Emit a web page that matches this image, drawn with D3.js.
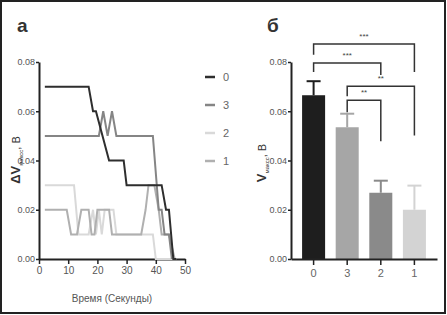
<!DOCTYPE html>
<html>
<head>
<meta charset="utf-8">
<script src="https://cdn.jsdelivr.net/npm/d3@7"></script>
<style>
  body { margin: 0; background: #fff; }
  svg { display: block; font-family: "Liberation Sans Narrow", "Liberation Sans", Arial, sans-serif; }
</style>
</head>
<body>
<div class="chart"></div>
<script>
// ---- data ----
const seriesNames = ['0', '3', '2', '1'];
const seriesColors = ['#2e2e2e', '#858585', '#d9d9d9', '#b0b0b0'];

// time (s), ΔV (B)
const s0 = [[2,.07],[17,.07],[18.5,.06],[19.5,.06],[24,.04],[29,.04],[30,.03],[42,.03],[43.5,.02],[44.5,.02],[46,0],[47,0]];
const s3 = [[2,.05],[20.5,.05],[22,.06],[23.5,.05],[25,.06],[26.5,.05],[39,.05],[41,.02],[42,.02],[43,.01],[44.5,.01],[45.5,0]];
const s2 = [[2,.03],[12,.03],[13.5,.01],[17,.01],[18.5,.02],[19.5,.01],[20.5,.02],[21.5,.01],[22.5,.02],[25.5,.02],[26.5,.01],[39,.01],[40,0],[47,0]];
const s1 = [[2,.02],[9.5,.02],[11,.01],[13,.01],[14.5,.02],[17,.02],[18,.01],[19,.01],[20,.02],[24,.02],[25,.01],[27,.01],[35,.01],[36.5,.02],[37.5,.03],[39.5,.03],[41,.02],[42,.01],[44.5,.01],[46.5,0]];
const lineSeries = [s0, s3, s2, s1];

const barCats = ['0', '3', '2', '1'];
const barMeans = [0.0665, 0.0535, 0.0269, 0.0200];
const barErrs = [0.0057, 0.0055, 0.0049, 0.0098];
const barColors = ['#1e1e1e', '#a6a6a6', '#8a8a8a', '#d3d3d3'];

// significance brackets: from, to, level, left leg end, right leg end, label
const sigFrom = ['0', '0', '3', '3'];
const sigTo = ['1', '2', '1', '2'];
const sigLevel = [0.0873, 0.0796, 0.0702, 0.0645];
const sigLeftEnd = [0.0829, 0.0759, 0.0661, 0.0596];
const sigRightEnd = [0.0759, 0.0747, 0.0502, 0.0478];
const sigLabels = ['***', '***', '**', '**'];

const yTicks = [0, 0.02, 0.04, 0.06, 0.08];
const xTicks = [0, 10, 20, 30, 40, 50];

const outerW = 447, outerH = 315;

const svg = d3.select('.chart').append('svg')
  .attr('width', outerW)
  .attr('height', outerH);

// frame
svg.append('rect')
  .attr('x', 1).attr('y', 1)
  .attr('width', 444).attr('height', 312)
  .attr('fill', 'none')
  .attr('stroke', '#222')
  .attr('stroke-width', 2);

function styleAxis(g) {
  g.select('.domain').attr('stroke', '#222').attr('stroke-width', 2);
  g.selectAll('.tick line').attr('stroke', '#222').attr('stroke-width', 1.5);
  g.selectAll('.tick text').attr('fill', '#555').style('font-size', '9px');
}

// ---------- panel a : lines ----------
const x = d3.scaleLinear().domain([0, 50]).range([39, 185]);
const y = d3.scaleLinear().domain([0, 0.08]).range([259, 62]);

svg.append('g')
  .attr('transform', 'translate(39,0)')
  .call(d3.axisLeft(y).tickValues(yTicks).tickFormat(d3.format('.2f')).tickSize(3).tickSizeOuter(0).tickPadding(1))
  .call(styleAxis);

svg.append('g')
  .attr('transform', 'translate(0,259)')
  .call(d3.axisBottom(x).tickValues(xTicks).tickSize(5).tickSizeOuter(0).tickPadding(3))
  .call(styleAxis)
  .selectAll('.tick text').style('font-size', '10px');

const line = d3.line().x(d => x(d[0])).y(d => y(d[1]));

// draw lightest first so dark ones sit on top
[2, 3, 1, 0].forEach(i => {
  svg.append('path')
    .datum(lineSeries[i])
    .attr('fill', 'none')
    .attr('stroke', seriesColors[i])
    .attr('stroke-width', 2)
    .attr('stroke-linejoin', 'miter')
    .attr('d', line);
});

// legend
const legend = svg.append('g')
  .selectAll('g')
  .data(seriesNames)
  .join('g')
  .attr('transform', (d, i) => `translate(205,${77 + i * 28})`);

legend.append('line')
  .attr('x1', 0).attr('x2', 10)
  .attr('stroke', (d, i) => seriesColors[i])
  .attr('stroke-width', 2.5);

legend.append('text')
  .attr('x', 18).attr('dy', '0.35em')
  .attr('fill', '#666')
  .style('font-size', '11px')
  .text(d => d);

svg.append('text')
  .attr('x', 112).attr('y', 302)
  .attr('text-anchor', 'middle')
  .attr('fill', '#555')
  .style('font-size', '10px')
  .text('Время (Секунды)');

const yLabA = svg.append('text')
  .attr('transform', 'translate(20,160) rotate(-90)')
  .attr('text-anchor', 'middle')
  .attr('fill', '#333');
yLabA.append('tspan').style('font-size', '13px').style('font-weight', 'bold').text('ΔV');
yLabA.append('tspan').style('font-size', '6px').attr('dy', 3).text('максс');
yLabA.append('tspan').style('font-size', '11px').attr('dy', -3).text(', В');

svg.append('text')
  .attr('x', 17).attr('y', 32)
  .attr('fill', '#333')
  .style('font-size', '19px')
  .style('font-weight', 'bold')
  .style('font-family', 'Liberation Sans, Arial, sans-serif')
  .text('а');

// ---------- panel б : bars ----------
const xb = d3.scaleBand().domain(barCats).range([291, 437]).paddingInner(0.315).paddingOuter(0.33);
const yb = d3.scaleLinear().domain([0, 0.08]).range([259, 62]);

svg.append('g')
  .attr('transform', 'translate(291,0)')
  .call(d3.axisLeft(yb).tickValues(yTicks).tickFormat(d3.format('.2f')).tickSize(3).tickSizeOuter(0).tickPadding(1))
  .call(styleAxis);

svg.append('g')
  .selectAll('rect')
  .data(barCats)
  .join('rect')
  .attr('x', d => xb(d))
  .attr('y', (d, i) => yb(barMeans[i]))
  .attr('width', xb.bandwidth())
  .attr('height', (d, i) => yb(0) - yb(barMeans[i]))
  .attr('fill', (d, i) => barColors[i]);

const err = svg.append('g')
  .selectAll('g')
  .data(barCats)
  .join('g')
  .attr('stroke', (d, i) => barColors[i])
  .attr('stroke-width', 2);

err.append('line')
  .attr('x1', d => xb(d) + xb.bandwidth() / 2)
  .attr('x2', d => xb(d) + xb.bandwidth() / 2)
  .attr('y1', (d, i) => yb(barMeans[i]))
  .attr('y2', (d, i) => yb(barMeans[i] + barErrs[i]));

err.append('line')
  .attr('x1', d => xb(d) + xb.bandwidth() / 2 - 7)
  .attr('x2', d => xb(d) + xb.bandwidth() / 2 + 7)
  .attr('y1', (d, i) => yb(barMeans[i] + barErrs[i]))
  .attr('y2', (d, i) => yb(barMeans[i] + barErrs[i]));

svg.append('g')
  .attr('transform', 'translate(0,259)')
  .call(d3.axisBottom(xb).tickSize(6).tickSizeOuter(0).tickPadding(4))
  .call(styleAxis)
  .selectAll('.tick text').style('font-size', '11px').attr('fill', '#666');

// brackets
const cx = c => xb(c) + xb.bandwidth() / 2;
const brackets = svg.append('g')
  .selectAll('g')
  .data(sigLabels)
  .join('g');

brackets.append('path')
  .attr('fill', 'none')
  .attr('stroke', '#333')
  .attr('stroke-width', 1.5)
  .attr('d', (d, i) => {
    const x1 = cx(sigFrom[i]), x2 = cx(sigTo[i]);
    return `M${x1},${yb(sigLeftEnd[i])}V${yb(sigLevel[i])}H${x2}V${yb(sigRightEnd[i])}`;
  });

brackets.append('text')
  .attr('x', (d, i) => (cx(sigFrom[i]) + cx(sigTo[i])) / 2)
  .attr('y', (d, i) => yb(sigLevel[i]) - 5)
  .attr('text-anchor', 'middle')
  .attr('fill', '#444')
  .style('font-size', '8px')
  .text(d => d);

const yLabB = svg.append('text')
  .attr('transform', 'translate(266,163) rotate(-90)')
  .attr('text-anchor', 'middle')
  .attr('fill', '#333');
yLabB.append('tspan').style('font-size', '13px').style('font-weight', 'bold').text('V');
yLabB.append('tspan').style('font-size', '6px').attr('dy', 3).text('максс');
yLabB.append('tspan').style('font-size', '11px').attr('dy', -3).text(', В');

svg.append('text')
  .attr('x', 267).attr('y', 32)
  .attr('fill', '#333')
  .style('font-size', '19px')
  .style('font-weight', 'bold')
  .style('font-family', 'Liberation Sans, Arial, sans-serif')
  .text('б');
</script>
</body>
</html>
